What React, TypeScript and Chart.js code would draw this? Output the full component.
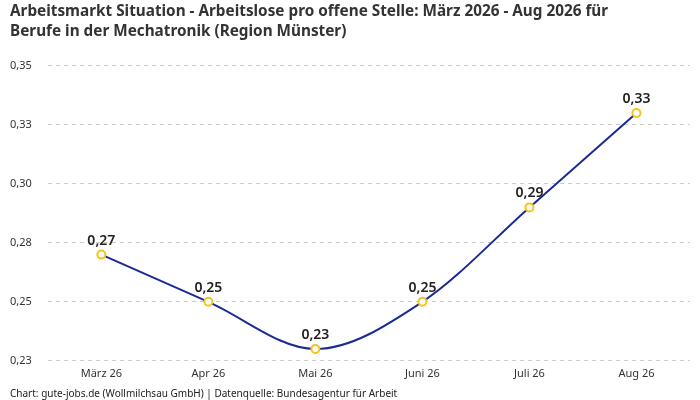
import { useEffect, useRef } from 'react'
import { Chart, registerables, type Plugin } from 'chart.js'

Chart.register(...registerables)

// ─── Data ──────────────────────────────────────────────────────────────────
const months = ['März 26', 'Apr 26', 'Mai 26', 'Juni 26', 'Juli 26', 'Aug 26']
const ratio = [0.27, 0.25, 0.23, 0.25, 0.29, 0.33]
const yTicks = [0.225, 0.25, 0.275, 0.3, 0.325, 0.35]
const yTickLabels = ['0,23', '0,25', '0,28', '0,30', '0,33', '0,35']

const TITLE = [
  'Arbeitsmarkt Situation - Arbeitslose pro offene Stelle: März 2026 - Aug 2026 für',
  'Berufe in der Mechatronik (Region Münster)',
]
const SOURCE = 'Chart: gute-jobs.de (Wollmilchsau GmbH) | Datenquelle: Bundesagentur für Arbeit'

const FONT = '"Noto Sans", "Open Sans", sans-serif'

const fmt = (v: number) => v.toFixed(2).replace('.', ',')

// draws the value above each point
const valueLabels: Plugin<'line'> = {
  id: 'valueLabels',
  afterDatasetsDraw(chart) {
    const { ctx } = chart
    const meta = chart.getDatasetMeta(0)
    ctx.save()
    ctx.font = `600 14px ${FONT}`
    ctx.fillStyle = '#222222'
    ctx.textAlign = 'center'
    ctx.textBaseline = 'bottom'
    meta.data.forEach((pt, i) => {
      ctx.fillText(fmt(ratio[i]), pt.x, pt.y - 7)
    })
    ctx.restore()
  },
}

export default function App() {
  const canvasRef = useRef<HTMLCanvasElement>(null)

  useEffect(() => {
    const canvas = canvasRef.current
    if (!canvas) return
    const chart = new Chart(canvas, {
      type: 'line',
      data: {
        labels: months,
        datasets: [
          {
            data: ratio,
            borderColor: '#1b2a94',
            borderWidth: 2,
            cubicInterpolationMode: 'monotone',
            pointRadius: 4,
            pointBorderWidth: 2,
            pointBackgroundColor: '#ffffff',
            pointBorderColor: '#f7c21a',
            fill: false,
          },
        ],
      },
      options: {
        animation: false,
        responsive: true,
        maintainAspectRatio: false,
        layout: { padding: { left: 10, right: 10, top: 2, bottom: 0 } },
        plugins: {
          legend: { display: false },
          tooltip: { enabled: false },
          title: {
            display: true,
            text: TITLE,
            align: 'start',
            color: '#333333',
            font: { family: FONT, size: 15.3, weight: 'bold', lineHeight: 1.3 },
            padding: { top: 0, bottom: 24 },
          },
          subtitle: {
            display: true,
            position: 'bottom',
            text: SOURCE,
            align: 'start',
            color: '#222222',
            font: { family: FONT, size: 10 },
            padding: { top: 2, bottom: 0 },
          },
        },
        scales: {
          x: {
            offset: true,
            grid: { display: false, drawTicks: false },
            border: { display: false },
            ticks: { color: '#333333', font: { family: FONT, size: 11 }, padding: 6 },
          },
          y: {
            min: 0.225,
            max: 0.35,
            afterBuildTicks(axis) {
              axis.ticks = yTicks.map(v => ({ value: v }))
            },
            border: { display: false, dash: [4, 4] },
            grid: { color: '#cccccc', drawTicks: false },
            ticks: {
              color: '#333333',
              font: { family: FONT, size: 11 },
              padding: 8,
              crossAlign: 'far',
              callback: (_v, i) => yTickLabels[i],
            },
          },
        },
      },
      plugins: [valueLabels],
    })
    return () => chart.destroy()
  }, [])

  return (
    <div style={{ position: 'fixed', left: 0, top: 0, width: 700, height: 400, background: '#fff' }}>
      <canvas ref={canvasRef} style={{ display: 'block', width: '100%', height: '100%' }} />
    </div>
  )
}
